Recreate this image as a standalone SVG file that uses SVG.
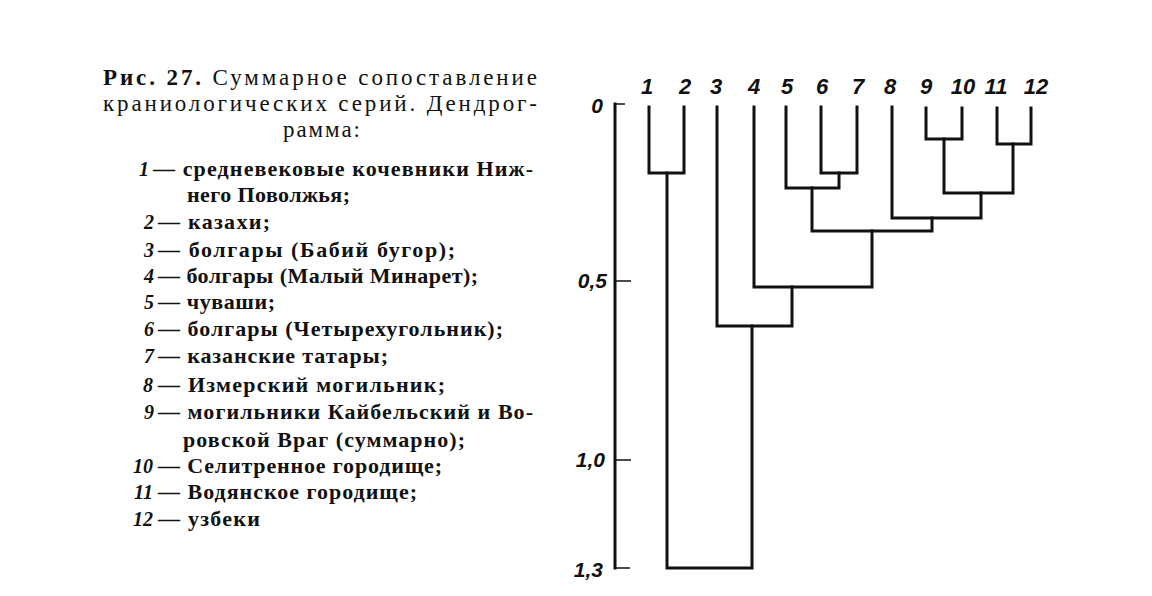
<svg xmlns="http://www.w3.org/2000/svg" width="1152" height="596" viewBox="0 0 1152 596">
<style>
.t{font-family:"Liberation Serif","DejaVu Serif",serif;fill:#111;}
.title{font-size:23px;}
.item{font-size:22px;font-weight:bold;}
.num{font-size:20px;font-style:italic;font-weight:bold;text-anchor:end;}
.leaf{font-family:"Liberation Sans","DejaVu Sans",sans-serif;font-size:22px;font-style:italic;font-weight:bold;fill:#111;text-anchor:middle;}
.ax{font-family:"Liberation Sans","DejaVu Sans",sans-serif;font-size:21px;font-style:italic;font-weight:bold;fill:#111;text-anchor:end;}
.ln{fill:none;stroke:#111;stroke-width:3;stroke-linecap:square;stroke-linejoin:miter;}
.tick{fill:none;stroke:#111;stroke-width:1.6;}
</style>
<rect width="1152" height="596" fill="#fff"/>
<g id="legend">
<text class="t title" x="103" y="85" textLength="434" lengthAdjust="spacing"><tspan font-weight="bold">Рис. 27.</tspan> Суммарное сопоставление</text>
<text class="t title" x="103" y="111" textLength="434" lengthAdjust="spacing">краниологических серий. Дендрог-</text>
<text class="t title" x="283" y="137" textLength="77" lengthAdjust="spacing">рамма:</text>
<text class="t num" x="149" y="176">1</text>
<text class="t item" x="153" y="176" textLength="380" lengthAdjust="spacing">— средневековые кочевники Ниж-</text>
<text class="t item" x="187" y="202" textLength="163" lengthAdjust="spacing">него Поволжья;</text>
<text class="t num" x="154" y="229">2</text>
<text class="t item" x="158" y="229" textLength="112" lengthAdjust="spacing">— казахи;</text>
<text class="t num" x="154" y="257">3</text>
<text class="t item" x="158" y="257" textLength="297" lengthAdjust="spacing">— болгары (Бабий бугор);</text>
<text class="t num" x="154" y="283">4</text>
<text class="t item" x="158" y="283" textLength="320" lengthAdjust="spacing">— болгары (Малый Минарет);</text>
<text class="t num" x="154" y="309">5</text>
<text class="t item" x="158" y="309" textLength="117" lengthAdjust="spacing">— чуваши;</text>
<text class="t num" x="154" y="336">6</text>
<text class="t item" x="158" y="336" textLength="345" lengthAdjust="spacing">— болгары (Четырехугольник);</text>
<text class="t num" x="154" y="363">7</text>
<text class="t item" x="158" y="363" textLength="230" lengthAdjust="spacing">— казанские татары;</text>
<text class="t num" x="153" y="392" fill="#777">8</text>
<text class="t item" x="158" y="392" textLength="287" lengthAdjust="spacing">— Измерский могильник;</text>
<text class="t num" x="154" y="419">9</text>
<text class="t item" x="158" y="419" textLength="375" lengthAdjust="spacing">— могильники Кайбельский и Во-</text>
<text class="t item" x="183" y="447" textLength="282" lengthAdjust="spacing">ровской Враг (суммарно);</text>
<text class="t num" x="153" y="473">10</text>
<text class="t item" x="158" y="473" textLength="284" lengthAdjust="spacing">— Селитренное городище;</text>
<text class="t num" x="153" y="499">11</text>
<text class="t item" x="158" y="499" textLength="259" lengthAdjust="spacing">— Водянское городище;</text>
<text class="t num" x="153" y="526">12</text>
<text class="t item" x="158" y="526" textLength="102" lengthAdjust="spacing">— узбеки</text>
</g>
<g id="axis">
<path class="ln" d="M615,104 V568"/>
<path class="tick" d="M615,104 H625 M615,281 H631 M615,460 H631 M615,568 H630"/>
<text class="ax" x="603" y="113">0</text>
<text class="ax" x="607" y="288">0,5</text>
<text class="ax" x="605" y="467">1,0</text>
<text class="ax" x="603" y="577">1,3</text>
</g>
<g id="leaves">
<g id="leaf1"><text class="leaf" x="647" y="94">1</text></g>
<g id="leaf2"><text class="leaf" x="685" y="94">2</text></g>
<g id="leaf3"><text class="leaf" x="716" y="94">3</text></g>
<g id="leaf4"><text class="leaf" x="754" y="94">4</text></g>
<g id="leaf5"><text class="leaf" x="787" y="94">5</text></g>
<g id="leaf6"><text class="leaf" x="822" y="94">6</text></g>
<g id="leaf7"><text class="leaf" x="858" y="94">7</text></g>
<g id="leaf8"><text class="leaf" x="890" y="94">8</text></g>
<g id="leaf9"><text class="leaf" x="926" y="94">9</text></g>
<g id="leaf10"><text class="leaf" x="963" y="94">10</text></g>
<g id="leaf11"><text class="leaf" x="996" y="94">11</text></g>
<g id="leaf12"><text class="leaf" x="1036" y="94">12</text></g>
</g>
<g id="connectors">
<path class="ln" d="M649,107 V173 H684 V107"/>
<path class="ln" d="M667,173 V568 H752 V326"/>
<path class="ln" d="M717,107 V326 H792 V287"/>
<path class="ln" d="M754,107 V287 H872 V231"/>
<path class="ln" d="M786,107 V188 H839 V173"/>
<path class="ln" d="M821,107 V173 H857 V107"/>
<path class="ln" d="M812,188 V231 H932 V218"/>
<path class="ln" d="M892,107 V218 H981 V193"/>
<path class="ln" d="M926,108 V139 H962 V108"/>
<path class="ln" d="M944,139 V193 H1013 V144"/>
<path class="ln" d="M997,108 V144 H1031 V108"/>
</g>
</svg>
